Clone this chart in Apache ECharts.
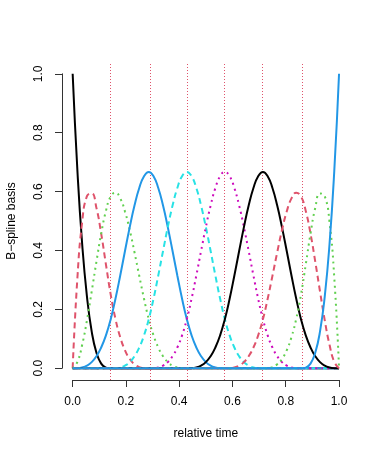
<!DOCTYPE html>
<html>
<head>
<meta charset="utf-8">
<script src="https://cdn.jsdelivr.net/npm/echarts@6/dist/echarts.min.js"></script>
<style>
html, body { margin: 0; padding: 0; background: #fff; }
#main { width: 382px; height: 458px; }
</style>
</head>
<body>
<div id="main"></div>
<script>
// relative time grid (steps of 1/56)
var relTime = [0, 0.0179, 0.0357, 0.0536, 0.0714, 0.0893, 0.1071, 0.125, 0.1429, 0.1607,
    0.1786, 0.1964, 0.2143, 0.2321, 0.25, 0.2679, 0.2857, 0.3036, 0.3214, 0.3393,
    0.3571, 0.375, 0.3929, 0.4107, 0.4286, 0.4464, 0.4643, 0.4821, 0.5, 0.5179,
    0.5357, 0.5536, 0.5714, 0.5893, 0.6071, 0.625, 0.6429, 0.6607, 0.6786, 0.6964,
    0.7143, 0.7321, 0.75, 0.7679, 0.7857, 0.8036, 0.8214, 0.8393, 0.8571, 0.875,
    0.8929, 0.9107, 0.9286, 0.9464, 0.9643, 0.9821, 1];

// basis values, one array per column
var basis1 = [1, 0.6699, 0.4219, 0.2441, 0.125, 0.0527, 0.0156, 0.0020,
    0, 0, 0, 0, 0, 0, 0, 0, 0, 0,
    0, 0, 0, 0, 0, 0, 0, 0, 0, 0,
    0, 0, 0, 0, 0, 0, 0, 0, 0, 0,
    0, 0, 0, 0, 0, 0, 0, 0, 0, 0,
    0, 0, 0, 0, 0, 0, 0, 0, 0];
var basis2 = [0, 0.3081, 0.4961, 0.5845, 0.5938, 0.5444, 0.4570, 0.3521, 0.25, 0.1675,
    0.1055, 0.0610, 0.0313, 0.0132, 0.0039, 0.0005,
    0, 0, 0, 0, 0, 0, 0, 0, 0, 0,
    0, 0, 0, 0, 0, 0, 0, 0, 0, 0,
    0, 0, 0, 0, 0, 0, 0, 0, 0, 0,
    0, 0, 0, 0, 0, 0, 0, 0, 0, 0,
    0];
var basis3 = [0, 0.0216, 0.0794, 0.1626, 0.2604, 0.3621, 0.4570, 0.5343, 0.5833, 0.5962,
    0.5768, 0.5321, 0.4688, 0.3937, 0.3138, 0.2358, 0.1667, 0.1117, 0.0703, 0.0407,
    0.0208, 0.0088, 0.0026, 0.0003,
    0, 0, 0, 0, 0, 0, 0, 0, 0, 0,
    0, 0, 0, 0, 0, 0, 0, 0, 0, 0,
    0, 0, 0, 0, 0, 0, 0, 0, 0, 0,
    0, 0, 0];
var basis4 = [0,
    0.0003, 0.0026, 0.0088, 0.0208, 0.0407, 0.0703, 0.1117, 0.1667, 0.2360, 0.3151,
    0.3981, 0.4792, 0.5524, 0.6120, 0.6520, 0.6667, 0.6520, 0.6120, 0.5524, 0.4792,
    0.3981, 0.3151, 0.2360, 0.1667, 0.1117, 0.0703, 0.0407, 0.0208, 0.0088, 0.0026,
    0.0003,
    0, 0, 0, 0, 0, 0, 0, 0, 0, 0,
    0, 0, 0, 0, 0, 0, 0, 0, 0, 0,
    0, 0, 0, 0, 0];
var basis5 = [0, 0, 0, 0, 0, 0, 0, 0, 0,
    0.0003, 0.0026, 0.0088, 0.0208, 0.0407, 0.0703, 0.1117, 0.1667, 0.2360, 0.3151,
    0.3981, 0.4792, 0.5524, 0.6120, 0.6520, 0.6667, 0.6520, 0.6120, 0.5524, 0.4792,
    0.3981, 0.3151, 0.2360, 0.1667, 0.1117, 0.0703, 0.0407, 0.0208, 0.0088, 0.0026,
    0.0003,
    0, 0, 0, 0, 0, 0, 0, 0, 0, 0,
    0, 0, 0, 0, 0, 0, 0];
var basis6 = [0, 0, 0, 0, 0, 0, 0, 0, 0, 0,
    0, 0, 0, 0, 0, 0, 0,
    0.0003, 0.0026, 0.0088, 0.0208, 0.0407, 0.0703, 0.1117, 0.1667, 0.2360, 0.3151,
    0.3981, 0.4792, 0.5524, 0.6120, 0.6520, 0.6667, 0.6520, 0.6120, 0.5524, 0.4792,
    0.3981, 0.3151, 0.2360, 0.1667, 0.1117, 0.0703, 0.0407, 0.0208, 0.0088, 0.0026,
    0.0003,
    0, 0, 0, 0, 0, 0, 0, 0, 0];
var basis7 = [0, 0, 0, 0, 0, 0, 0, 0, 0, 0,
    0, 0, 0, 0, 0, 0, 0, 0, 0, 0,
    0, 0, 0, 0, 0,
    0.0003, 0.0026, 0.0088, 0.0208, 0.0407, 0.0703, 0.1117, 0.1667, 0.2360, 0.3151,
    0.3981, 0.4792, 0.5524, 0.6120, 0.6520, 0.6667, 0.6520, 0.6120, 0.5524, 0.4792,
    0.3981, 0.3151, 0.2360, 0.1667, 0.1117, 0.0703, 0.0407, 0.0208, 0.0088, 0.0026,
    0.0003,
    0];
var basis8 = [0, 0, 0, 0, 0, 0, 0, 0, 0, 0,
    0, 0, 0, 0, 0, 0, 0, 0, 0, 0,
    0, 0, 0, 0, 0, 0, 0, 0, 0, 0,
    0, 0, 0,
    0.0003, 0.0026, 0.0088, 0.0208, 0.0407, 0.0703, 0.1117, 0.1667, 0.2358, 0.3138,
    0.3937, 0.4688, 0.5321, 0.5768, 0.5962, 0.5833, 0.5343, 0.4570, 0.3621, 0.2604,
    0.1626, 0.0794, 0.0216, 0];
var basis9 = [0, 0, 0, 0, 0, 0, 0, 0, 0, 0,
    0, 0, 0, 0, 0, 0, 0, 0, 0, 0,
    0, 0, 0, 0, 0, 0, 0, 0, 0, 0,
    0, 0, 0, 0, 0, 0, 0, 0, 0, 0,
    0,
    0.0005, 0.0039, 0.0132, 0.0313, 0.0610, 0.1055, 0.1675, 0.25, 0.3521, 0.4570,
    0.5444, 0.5938, 0.5845, 0.4961, 0.3081, 0];
var basis10 = [0, 0, 0, 0, 0, 0, 0, 0, 0, 0,
    0, 0, 0, 0, 0, 0, 0, 0, 0, 0,
    0, 0, 0, 0, 0, 0, 0, 0, 0, 0,
    0, 0, 0, 0, 0, 0, 0, 0, 0, 0,
    0, 0, 0, 0, 0, 0, 0, 0, 0,
    0.0020, 0.0156, 0.0527, 0.125, 0.2441, 0.4219, 0.6699, 1];

// interior knots
var knots = [0.1429, 0.2857, 0.4286, 0.5714, 0.7143, 0.8571];

var allBasis = [basis1, basis2, basis3, basis4, basis5, basis6, basis7, basis8, basis9, basis10];
var colors = ['#000000', '#DF536B', '#61D04F', '#2297E6', '#28E2E5', '#CD0BBC'];
var dashes = ['solid', [6, 4], [2, 4]];

var font = '"Liberation Sans", Arial, Helvetica, sans-serif';
var axisColor = '#333';

var chart = echarts.init(document.getElementById('main'));

var series = allBasis.map(function (vals, i) {
    return {
        type: 'line',
        xAxisIndex: 0,
        yAxisIndex: 0,
        smooth: true,
        symbol: 'none',
        data: relTime.map(function (x, j) { return [x, vals[j]]; }),
        lineStyle: { width: 2, color: colors[i % 6], type: dashes[i % 3] },
        z: 2 + i
    };
});

// vertical knot lines
series.push({
    type: 'line',
    xAxisIndex: 0,
    yAxisIndex: 0,
    data: [],
    z: 20,
    markLine: {
        silent: true,
        symbol: 'none',
        label: { show: false },
        lineStyle: { color: '#DF536B', width: 1, type: [1, 2] },
        data: knots.map(function (k) { return { xAxis: k }; })
    }
});

var option = {
    animation: false,
    textStyle: { fontFamily: font },
    grid: [
        { left: 62, right: 32.3, top: 62, bottom: 78, containLabel: false, outerBoundsMode: 'none' },
        { left: 72.66, right: 43, top: 73.8, bottom: 89.8, containLabel: false, outerBoundsMode: 'none' }
    ],
    xAxis: [
        { gridIndex: 0, type: 'value', min: -0.04, max: 1.04, show: false },
        {
            gridIndex: 1, type: 'value', min: 0, max: 1, interval: 0.2, offset: 11.8,
            name: 'relative time', nameLocation: 'middle', nameGap: 48,
            nameTextStyle: { color: '#000', fontSize: 12, fontFamily: font },
            axisLine: { show: true, onZero: false, lineStyle: { color: axisColor, width: 1 } },
            axisTick: { show: true, length: 7, lineStyle: { color: axisColor } },
            splitLine: { show: false },
            axisLabel: {
                color: '#000', fontSize: 12, margin: 16, fontFamily: font,
                formatter: function (v) { return v.toFixed(1); }
            }
        }
    ],
    yAxis: [
        { gridIndex: 0, type: 'value', min: -0.04, max: 1.04, show: false },
        {
            gridIndex: 1, type: 'value', min: 0, max: 1, interval: 0.2, offset: 10.66,
            name: 'B\u2212spline basis', nameLocation: 'middle', nameGap: 44, nameRotate: 90,
            nameTextStyle: { color: '#000', fontSize: 12, fontFamily: font },
            axisLine: { show: true, onZero: false, lineStyle: { color: axisColor, width: 1 } },
            axisTick: { show: true, length: 7, lineStyle: { color: axisColor } },
            splitLine: { show: false },
            axisLabel: {
                color: '#000', fontSize: 12, margin: 17, rotate: 90, fontFamily: font,
                formatter: function (v) { return v.toFixed(1); }
            }
        }
    ],
    series: series
};

chart.setOption(option);
</script>
</body>
</html>
